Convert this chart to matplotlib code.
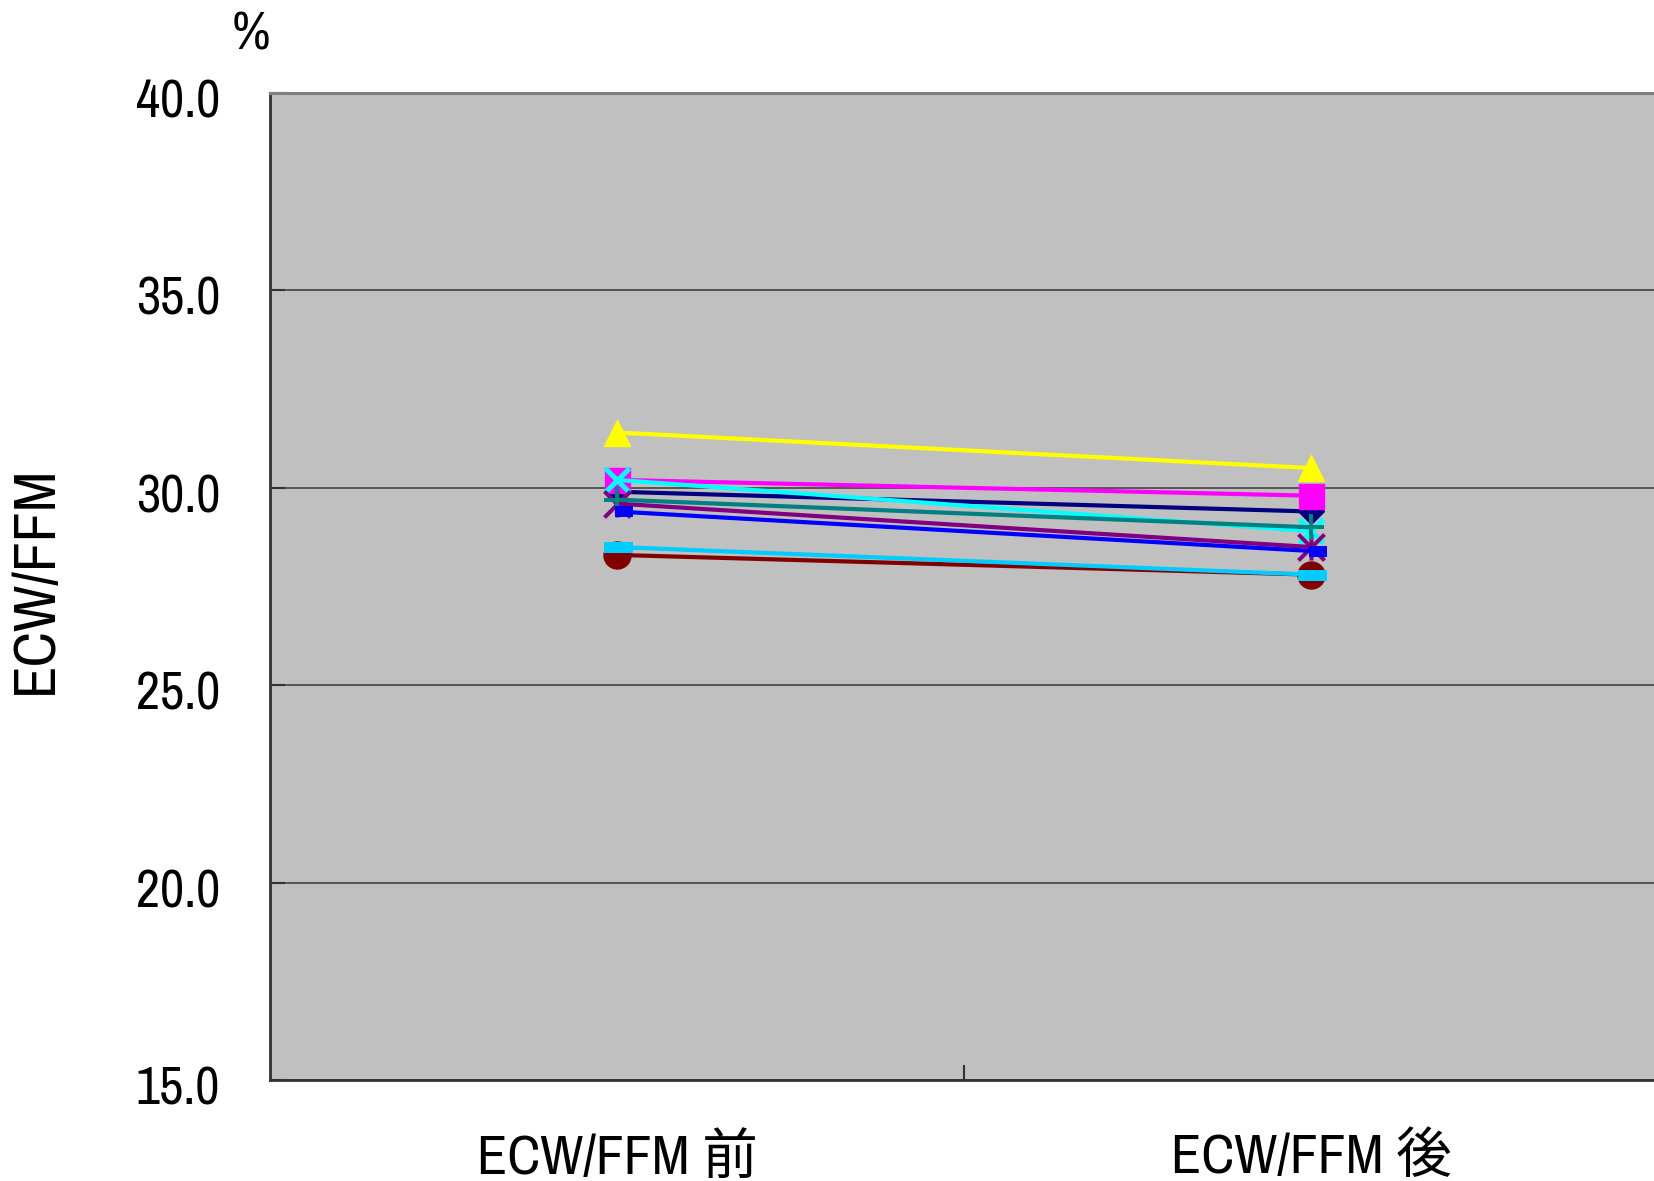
import matplotlib
matplotlib.use("Agg")
import matplotlib.pyplot as plt
from matplotlib.path import Path
from matplotlib.markers import MarkerStyle
from matplotlib.transforms import ScaledTranslation

# ---- data -------------------------------------------------------------
categories = ["ECW/FFM 前", "ECW/FFM 後"]
series_navy = [29.9, 29.4]
series_magenta = [30.2, 29.8]
series_yellow = [31.4, 30.5]
series_cyan = [30.2, 28.9]
series_purple = [29.6, 28.5]
series_darkred = [28.3, 27.8]
series_teal = [29.7, 29.0]
series_blue = [29.4, 28.4]
series_sky = [28.5, 27.8]
y_ticks = [15.0, 20.0, 25.0, 30.0, 35.0, 40.0]

FONT = ["Archivo Narrow", "Noto Sans CJK JP", "DejaVu Sans"]
plt.rcParams["font.family"] = FONT
FS = 38

DPI = 100
PX = 72.0 / DPI  # points per pixel

fig = plt.figure(figsize=(16.54, 11.81), dpi=DPI)
fig.patch.set_facecolor("white")
ax = fig.add_axes([270 / 1654, 1 - 1080 / 1181, 1388 / 1654, 987 / 1181])
ax.set_facecolor("#C0C0C0")

# custom spreadsheet-style markers
star_path = Path(
    [(-1, -1), (1, 1), (-1, 1), (1, -1), (0, -1), (0, 1)],
    [Path.MOVETO, Path.LINETO, Path.MOVETO, Path.LINETO, Path.MOVETO, Path.LINETO],
)
short_dash = Path(
    [(-2, -5.5), (16, -5.5), (16, 5.5), (-2, 5.5), (-2, -5.5)],
    [Path.MOVETO, Path.LINETO, Path.LINETO, Path.LINETO, Path.CLOSEPOLY],
)
long_dash = Path(
    [(-13, -5.5), (16, -5.5), (16, 5.5), (-13, 5.5), (-13, -5.5)],
    [Path.MOVETO, Path.LINETO, Path.LINETO, Path.LINETO, Path.CLOSEPOLY],
)

x = list(range(len(categories)))
lw = 3.0

ax.plot(x, series_navy, color="#000080", lw=lw, marker="D",
        ms=18 * PX, mec="#000080", mfc="#000080", zorder=3)
ax.plot(x, series_magenta, color="#FF00FF", lw=lw, marker="s",
        ms=25 * PX, mec="#FF00FF", mfc="#FF00FF", zorder=3)
ax.plot(x, series_yellow, color="#FFFF00", lw=lw, marker="^",
        ms=26 * PX, mec="#FFFF00", mfc="#FFFF00", zorder=3)
ax.plot(x, series_cyan, color="#00FFFF", lw=lw, marker="x",
        ms=24 * PX, mec="#00FFFF", mew=5 * PX, zorder=3)
ax.plot(x, series_purple, color="#800080", lw=lw, marker=MarkerStyle(star_path),
        ms=26 * PX, mec="#800080", mfc="none", mew=4 * PX, zorder=3)
ax.plot(x, series_darkred, color="#800000", lw=lw, marker="o",
        ms=27 * PX, mec="#800000", mfc="#800000", zorder=3)
ax.plot(x, series_teal, color="#008080", lw=lw, marker="+",
        ms=27 * PX, mec="#008080", mew=4 * PX, zorder=3)
ax.plot(x, series_blue, color="#0000FF", lw=lw, marker=MarkerStyle(short_dash),
        ms=32 * PX, mec="#0000FF", mfc="#0000FF", mew=0, zorder=3)
ax.plot(x, series_sky, color="#00CCFF", lw=lw, marker=MarkerStyle(long_dash),
        ms=32 * PX, mec="#00CCFF", mfc="#00CCFF", mew=0, zorder=3)

# axes
ax.set_xlim(-0.5, 1.5)
ax.set_ylim(15, 40)
ax.set_yticks(y_ticks)
ax.set_yticklabels([f"{v:.1f}" for v in y_ticks])
ax.yaxis.grid(True, color="#555555", lw=1.4, zorder=1)
ax.set_axisbelow(True)

ax.set_xticks([0.5])
ax.set_xticklabels([""])
ax.set_xticks(x, minor=True)
ax.set_xticklabels(categories, minor=True)
ax.tick_params(axis="x", which="major", direction="in", length=15 * PX,
               width=1.5, color="#333333")
ax.tick_params(axis="x", which="minor", length=0, pad=38, labelsize=40)
ax.tick_params(axis="y", direction="in", length=15 * PX, width=1.5,
               color="#333333", pad=36, labelsize=FS)

# nudge the value labels slightly below their gridlines
shift = ScaledTranslation(0, -5 / DPI, fig.dpi_scale_trans)
for lbl in ax.get_yticklabels():
    lbl.set_transform(lbl.get_transform() + shift)

for side in ("left", "bottom"):
    ax.spines[side].set_color("#333333")
    ax.spines[side].set_linewidth(2.0)
ax.spines["top"].set_color("#808080")
ax.spines["top"].set_linewidth(2.2)
ax.spines["right"].set_visible(False)

fig.text(35 / 1654, 1 - 580 / 1181, "ECW/FFM", rotation=90, ha="center",
         va="center", fontsize=43)
fig.text(251 / 1654, 1 - 35 / 1181, "%", ha="center", va="center", fontsize=FS)

fig.savefig("out.png", dpi=DPI)
